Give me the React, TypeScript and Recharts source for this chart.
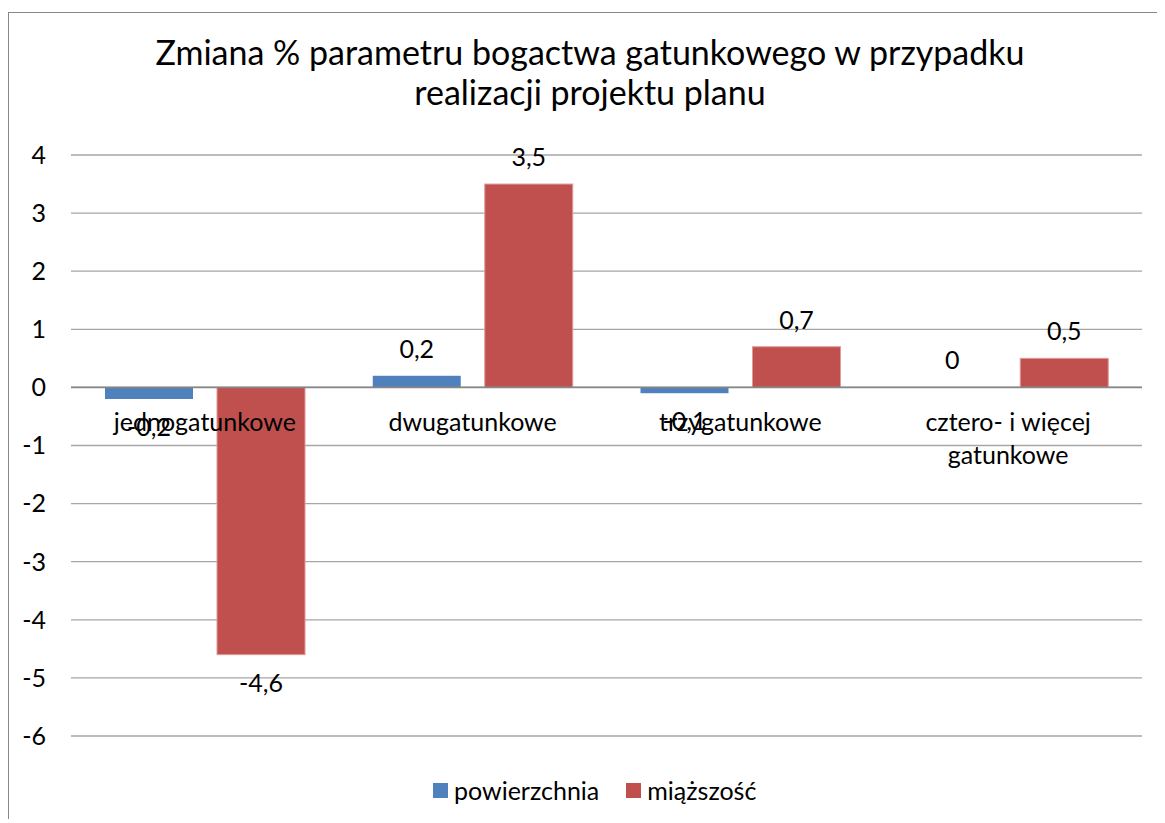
import {Bar, BarChart, CartesianGrid, ReferenceLine, XAxis, YAxis} from 'recharts'

const categories = ['jednogatunkowe', 'dwugatunkowe', 'trzygatunkowe', 'cztero- i więcej gatunkowe']
const powierzchnia = [-0.2, 0.2, -0.1, 0]
const miazszosc = [-4.6, 3.5, 0.7, 0.5]
const yTicks = [-6, -5, -4, -3, -2, -1, 0, 1, 2, 3, 4]
const seriesNames = ['powierzchnia', 'miąższość']
const titleLines = ['Zmiana % parametru bogactwa gatunkowego w przypadku', 'realizacji projektu planu']

const BLUE = '#4F81BD'
const RED = '#C0504D'
const FONT = 'Lato, "Open Sans", sans-serif'
const FS = 25

const data = categories.map((name, i) => ({name, pow: powierzchnia[i], mia: miazszosc[i]}))

const W = 1164
const H = 811
const MARGIN = {top: 143, right: 30, left: 0, bottom: 57}
const X_AXIS_H = 30
const PLOT_H = H - MARGIN.top - MARGIN.bottom - X_AXIS_H
const Y_MIN = yTicks[0]
const Y_MAX = yTicks[yTicks.length - 1]
// pixel row of the zero line, category labels hang off it like in Excel
const ZERO_Y = MARGIN.top + (PLOT_H * Y_MAX) / (Y_MAX - Y_MIN)

const fmt = (v: number) => String(v).replace('.', ',')

function wrap(text: string, max = 17) {
	const lines: string[] = []
	let cur = ''
	for (const w of text.split(' ')) {
		const next = cur ? cur + ' ' + w : w
		if (next.length > max && cur) {
			lines.push(cur)
			cur = w
		} else cur = next
	}
	if (cur) lines.push(cur)
	return lines
}

function CategoryTick(props: any) {
	const {x, payload} = props
	const lines = wrap(payload.value)
	return (
		<text x={x} y={ZERO_Y + 44} textAnchor='middle' fontSize={FS} fontFamily={FONT} fill='#000'>
			{lines.map((l, i) => (
				<tspan key={i} x={x} dy={i === 0 ? 0 : 33}>
					{l}
				</tspan>
			))}
		</text>
	)
}

// bar + its data label; drawn together so the zero-height bar still gets its "0"
function barShape(key: 'pow' | 'mia', fill: string, stroke?: string) {
	return (props: any) => {
		const {x, y, width, height, payload} = props
		const value: number = payload[key]
		const top = Math.min(y, y + height)
		const bottom = Math.max(y, y + height)
		const h = bottom - top
		const ty = value < 0 ? bottom + 37 : top - 18
		return (
			<g>
				{h > 0 && <rect x={x} y={top} width={width} height={h} fill={fill} stroke={stroke} strokeWidth={stroke ? 1 : 0} />}
				<text x={x + width / 2} y={ty} textAnchor='middle' fontSize={FS} fontFamily={FONT} fill='#000'>
					{fmt(value)}
				</text>
			</g>
		)
	}
}

export default function App() {
	return (
		<div style={{position: 'relative', top: 4, width: 1157, height: 811, overflow: 'hidden'}}>
			<style>{'body{overflow:hidden}'}</style>
			<div
				style={{
					position: 'absolute',
					left: 0,
					top: 0,
					width: W,
					height: 840,
					border: '1px solid #878787',
					boxSizing: 'border-box',
				}}
			/>
			<div
				style={{
					position: 'absolute',
					left: 0,
					top: 20,
					width: W,
					textAlign: 'center',
					fontFamily: FONT,
					fontSize: 34,
					lineHeight: '40px',
					color: '#000',
				}}
			>
				{titleLines.map((l) => (
					<div key={l}>{l}</div>
				))}
			</div>
			<div style={{position: 'absolute', left: 0, top: 0}}>
				<BarChart width={W} height={H} data={data} margin={MARGIN} barCategoryGap={34} barGap={24}>
					<CartesianGrid vertical={false} stroke='#a6a6a6' strokeWidth={1.3} />
					<XAxis
						dataKey='name'
						height={X_AXIS_H}
						axisLine={false}
						tickLine={false}
						interval={0}
						tick={<CategoryTick />}
					/>
					<YAxis
						domain={[Y_MIN, Y_MAX]}
						ticks={yTicks}
						width={63}
						axisLine={false}
						tickLine={false}
						tickSize={0}
						tickMargin={25}
						tick={{fontSize: FS, fontFamily: FONT, fill: '#000'}}
					/>
					<ReferenceLine y={0} stroke='#868686' strokeWidth={1.8} />
					<Bar dataKey='pow' name={seriesNames[0]} fill={BLUE} isAnimationActive={false} shape={barShape('pow', BLUE)} />
					<Bar
						dataKey='mia'
						name={seriesNames[1]}
						fill={RED}
						isAnimationActive={false}
						shape={barShape('mia', RED, '#e09a98')}
					/>
				</BarChart>
			</div>
			<div
				style={{
					position: 'absolute',
					left: 425,
					top: 763,
					display: 'flex',
					alignItems: 'center',
					fontFamily: FONT,
					fontSize: FS,
					color: '#000',
				}}
			>
				{seriesNames.map((n, i) => (
					<div key={n} style={{display: 'flex', alignItems: 'center', marginRight: i === 0 ? 27 : 0}}>
						<span style={{display: 'inline-block', width: 15, height: 15, background: i === 0 ? BLUE : RED, marginRight: 6}} />
						<span>{n}</span>
					</div>
				))}
			</div>
		</div>
	)
}
